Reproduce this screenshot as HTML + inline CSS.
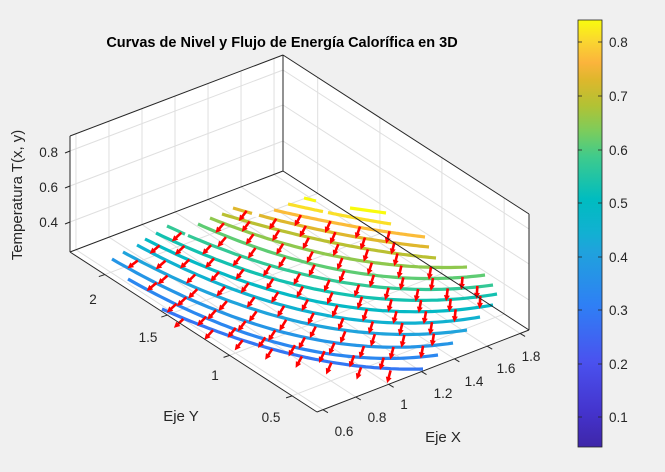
<!DOCTYPE html>
<html><head><meta charset="utf-8"><style>
html,body{margin:0;padding:0;background:#f0f0f0;}
svg{display:block;font-family:"Liberation Sans",Arial,sans-serif;}
</style></head><body>
<svg id="s" width="665" height="472" viewBox="0 0 665 472" xmlns="http://www.w3.org/2000/svg">
<defs>
<linearGradient id="pg" x1="0" y1="1" x2="0" y2="0">
<stop offset="0" stop-color="#3e26a8"/>
<stop offset="0.08" stop-color="#4433cc"/>
<stop offset="0.2" stop-color="#4a52ef"/>
<stop offset="0.33" stop-color="#2f7ff5"/>
<stop offset="0.46" stop-color="#1fa3dc"/>
<stop offset="0.5" stop-color="#12b0d2"/>
<stop offset="0.58" stop-color="#00bcc0"/>
<stop offset="0.68" stop-color="#3fcb8c"/>
<stop offset="0.74" stop-color="#7ccc5c"/>
<stop offset="0.8" stop-color="#b2c234"/>
<stop offset="0.86" stop-color="#deb72c"/>
<stop offset="0.9" stop-color="#fbb43c"/>
<stop offset="0.95" stop-color="#fad630"/>
<stop offset="1" stop-color="#f9fb0e"/>
</linearGradient>
</defs>
<rect width="665" height="472" fill="#f0f0f0"/>
<g id="box"></g>
<g id="curves"></g>
<g id="arrows"></g>
<g id="edges"></g>
<text x="282" y="47" font-size="14.5" font-weight="bold" text-anchor="middle" fill="#000">Curvas de Nivel y Flujo de Energía Calorífica en 3D</text>
<g font-size="13.5" fill="#262626">
<text x="58" y="157" text-anchor="end">0.8</text>
<text x="58" y="192" text-anchor="end">0.6</text>
<text x="58" y="227" text-anchor="end">0.4</text>
<text x="93" y="304" text-anchor="middle">2</text>
<text x="148" y="342" text-anchor="middle">1.5</text>
<text x="215" y="380" text-anchor="middle">1</text>
<text x="271" y="422" text-anchor="middle">0.5</text>
<text x="344" y="436" text-anchor="middle">0.6</text>
<text x="377" y="422" text-anchor="middle">0.8</text>
<text x="404" y="409" text-anchor="middle">1</text>
<text x="443" y="398" text-anchor="middle">1.2</text>
<text x="474" y="386" text-anchor="middle">1.4</text>
<text x="506" y="373" text-anchor="middle">1.6</text>
<text x="531" y="361" text-anchor="middle">1.8</text>
</g>
<g font-size="15" fill="#262626">
<text x="181" y="421" text-anchor="middle">Eje Y</text>
<text x="443" y="442" text-anchor="middle">Eje X</text>
<text transform="translate(22,195) rotate(-90)" text-anchor="middle">Temperatura T(x, y)</text>
</g>
<rect x="578" y="20" width="24" height="427" fill="url(#pg)" stroke="#262626" stroke-width="0.8"/>
<g id="cbt" stroke="#262626" stroke-width="0.8"></g>
<g font-size="13.5" fill="#262626">
<text x="609" y="47">0.8</text>
<text x="609" y="101">0.7</text>
<text x="609" y="155">0.6</text>
<text x="609" y="208">0.5</text>
<text x="609" y="262">0.4</text>
<text x="609" y="315">0.3</text>
<text x="609" y="369">0.2</text>
<text x="609" y="422">0.1</text>
</g>
</svg>
<script>
var NS="http://www.w3.org/2000/svg";
function el(p,n,a){var e=document.createElementNS(NS,n);for(var k in a)e.setAttribute(k,a[k]);document.getElementById(p).appendChild(e);return e;}
function ln(p,x1,y1,x2,y2,c,w){el(p,"line",{x1:x1,y1:y1,x2:x2,y2:y2,stroke:c,"stroke-width":w});}
var A=[70,252],B=[283,171],C=[529,330],D=[317,412],H=116;
function pt(P){return P[0]+","+P[1];}
function up(P,h){return [P[0],P[1]-h];}
el("box","polygon",{points:[A,B,up(B,H),up(A,H)].map(pt).join(" "),fill:"#fff"});
el("box","polygon",{points:[B,C,up(C,H),up(B,H)].map(pt).join(" "),fill:"#fff"});
el("box","polygon",{points:[A,B,C,D].map(pt).join(" "),fill:"#fff"});
var G="#dfdfdf";
function lerp(P,Q,t){return [P[0]+(Q[0]-P[0])*t,P[1]+(Q[1]-P[1])*t];}
var xu=[],ys=[0.101,0.354,0.606,0.859];for(var k=0;k<7;k++)xu.push(0.028+0.155*k);
var zh=[30,66,101];
xu.forEach(function(u){var p=lerp(A,B,u);ln("box",p[0],p[1],p[0],p[1]-H,G,1);
 var q=lerp(D,C,u);ln("box",p[0],p[1],q[0],q[1],G,1);});
ys.forEach(function(s){var p=lerp(D,A,s),q=lerp(C,B,s);ln("box",p[0],p[1],q[0],q[1],G,1);ln("box",q[0],q[1],q[0],q[1]-H,G,1);});
zh.forEach(function(h){ln("box",A[0],A[1]-h,B[0],B[1]-h,G,1);ln("box",B[0],B[1]-h,C[0],C[1]-h,G,1);});
var K="#262626";
ln("edges",A[0],A[1],B[0],B[1],K,1);ln("edges",B[0],B[1],C[0],C[1],K,1);
ln("edges",A[0],A[1],D[0],D[1],K,1);ln("edges",D[0],D[1],C[0],C[1],K,1);
ln("edges",A[0],A[1],A[0],A[1]-H,K,1);ln("edges",B[0],B[1],B[0],B[1]-H,K,1);ln("edges",C[0],C[1],C[0],C[1]-H,K,1);
ln("edges",A[0],A[1]-H,B[0],B[1]-H,K,1);ln("edges",B[0],B[1]-H,C[0],C[1]-H,K,1);
xu.forEach(function(u){var q=lerp(D,C,u);ln("edges",q[0],q[1],q[0]+5,q[1]+3,K,1);});
ys.forEach(function(s){var p=lerp(D,A,s);ln("edges",p[0],p[1],p[0]-6,p[1]+2,K,1);});
zh.forEach(function(h){ln("edges",A[0],A[1]-h,A[0]-5,A[1]-h+2,K,1);});
[42,96,150,203,257,310,364,417].forEach(function(y){ln("cbt",578,y,582,y,K,0.8);ln("cbt",598,y,602,y,K,0.8);});
var cm=[[0,[62,38,168]],[0.08,[68,51,204]],[0.2,[74,82,239]],[0.33,[47,127,245]],[0.46,[31,163,220]],[0.5,[18,176,210]],[0.58,[0,188,192]],[0.68,[63,203,140]],[0.74,[124,204,92]],[0.8,[178,194,52]],[0.86,[222,183,44]],[0.9,[251,180,60]],[0.95,[250,214,48]],[1,[249,251,14]]];
function col(v){var f=(v-0.045)/(0.84-0.045);f=Math.max(0,Math.min(1,f));for(var i=1;i<cm.length;i++){if(f<=cm[i][0]){var a=cm[i-1],b=cm[i],t=(f-a[0])/(b[0]-a[0]);return "rgb("+[0,1,2].map(function(j){return Math.round(a[1][j]+(b[1][j]-a[1][j])*t);}).join(",")+")";}}return "rgb(249,251,14)";}
var cv=[
[[162,309],[330,362],[423,369]],
[[128,279],[330,354],[438,355]],
[[112,259],[330,342],[453,343]],
[[123,252],[330,328],[467,330]],
[[137,245],[330,316],[480,317]],
[[145,239],[330,304],[493,305]],
[[156,233],[330,292],[497,294]],
[[167,226],[330,280],[493,285]],
[[198,224],[330,268],[485,275]],
[[210,218],[330,255],[467,267]],
[[222,214],[330,242],[436,258]],
[[233,208],[330,232],[429,247]],
[[274,210],[330,222],[425,237]],
[[288,204],[330,213],[391,224]]];
function quad(c){var S=c[0],M=c[1],E=c[2];var t=0.97*(M[0]-S[0])/(E[0]-S[0]);var a=(1-t)*(1-t),b=2*t*(1-t),d=t*t;
 var Kp=[(M[0]-a*S[0]-d*E[0])/b,(M[1]-a*S[1]-d*E[1])/b];var out=[];
 for(var i=0;i<=60;i++){var u=i/60,v=1-u;out.push([v*v*S[0]+2*u*v*Kp[0]+u*u*E[0],v*v*S[1]+2*u*v*Kp[1]+u*u*E[1]]);}return out;}
var S=cv.map(quad);
S.push([[350,208],[368,210.5],[386,213]]);
S.forEach(function(s,i){el("curves","polyline",{points:s.map(function(p){return p[0].toFixed(1)+","+p[1].toFixed(1);}).join(" "),fill:"none",stroke:col(0.29+0.04*i),"stroke-width":3.2});});
el("curves","line",{x1:304,y1:198,x2:316,y2:201,stroke:col(0.85),"stroke-width":3.2});
function yAt(s,x){if(x<=s[0][0])return null;for(var i=1;i<s.length;i++){if(s[i][0]>=x){var a=s[i-1],b=s[i];return a[1]+(b[1]-a[1])*(x-a[0])/(b[0]-a[0]);}}return null;}
function gapx(s,x1,x2){var a=yAt(s,x1),b=yAt(s,x2);if(a!=null&&b!=null)el("curves","line",{x1:x1,y1:a,x2:x2,y2:b,stroke:"#fff","stroke-width":5});}
gapx(S[7],185,188);gapx(S[11],252,259);gapx(S[13],323,328);
function arrow(x,y){var f=Math.max(0,Math.min(1,(x-130)/350));var dx=-0.8+0.75*f,dy=0.6+0.4*f;var n=Math.hypot(dx,dy);dx/=n;dy/=n;var L=12;
 var x2=x+dx*L/2,y2=y+dy*L/2,x1=x-dx*L/2,y1=y-dy*L/2;
 el("arrows","line",{x1:x1,y1:y1,x2:x2-dx*3,y2:y2-dy*3,stroke:"#ff0000","stroke-width":2.6});
 var px=-dy,py=dx;
 el("arrows","polygon",{points:[x2+dx,y2+dy,x2-dx*5+px*3,y2-dy*5+py*3,x2-dx*5-px*3,y2-dy*5-py*3].join(" "),fill:"#ff0000"});}
for(var i=0;i<12;i++){var a=S[i],b=S[i+1];var x0=Math.max(a[0][0],b[0][0])+10,x1=Math.min(a[a.length-1][0],b[b.length-1][0])-12;
 var off=(i%2)*14;
 for(var x=x0+off;x<x1;x+=30){var ya=yAt(a,x),yb=yAt(b,x);if(ya!=null&&yb!=null)arrow(x,(ya+yb)/2);}}
(function(){var a=S[0],b=S[1];for(var x=175;x<410;x+=30){var ya=yAt(a,x),yb=yAt(b,x);if(ya!=null&&yb!=null)arrow(x+4,ya+(ya-yb)*0.5+3);}})();
</script>
</body></html>
